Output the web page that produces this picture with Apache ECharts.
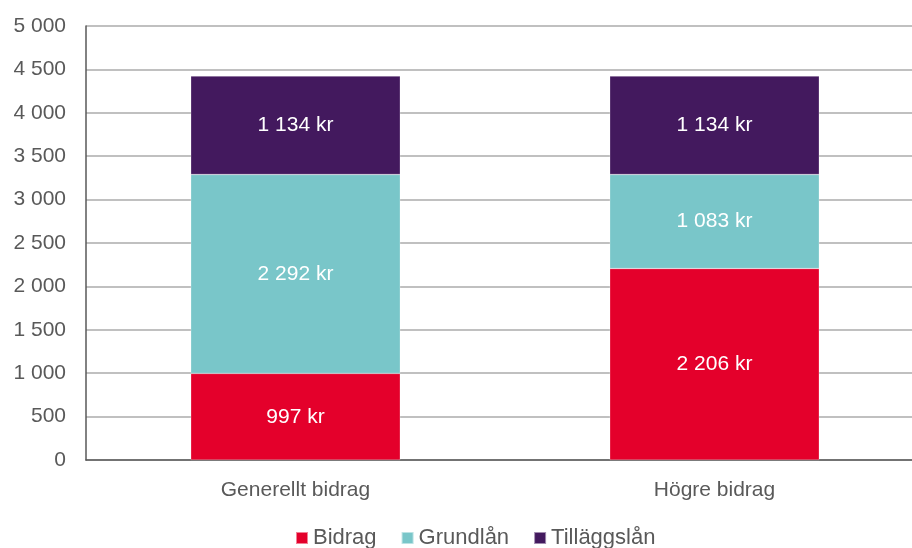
<!DOCTYPE html>
<html><head><meta charset="utf-8">
<script src="https://cdn.jsdelivr.net/npm/echarts@6/dist/echarts.min.js"></script>
<style>html,body{margin:0;padding:0;background:#fff;overflow:hidden;width:912px;height:548px}#c{width:924px;height:548px}</style>
</head><body><div id="c"></div>
<script>
const categories = ['Generellt bidrag', 'Högre bidrag'];
const bidrag = [997, 2206];
const grundlan = [2292, 1083];
const tillaggslan = [1134, 1134];
const seriesNames = ['Bidrag', 'Grundlån', 'Tilläggslån'];
const colors = ['#E4002B', '#79C6C9', '#43195E'];

function fmt(v){ return String(v).replace(/\B(?=(\d{3})+(?!\d))/g, ' '); }
const font = 'Liberation Sans, Arial, sans-serif';
const chart = echarts.init(document.getElementById('c'), null, {renderer:'canvas'});
const mk = (name, data, color) => ({
  name, type:'bar', stack:'s', data, barWidth:'50%',
  itemStyle:{color, borderColor:'rgba(255,255,255,0.5)', borderWidth:0.5},
  label:{show:true, position:'inside', color:'#fff', fontFamily:font, fontSize:21,
    formatter:p=>fmt(p.value)+' kr'}
});
chart.setOption({
  animation:false,
  textStyle:{fontFamily:font},
  grid:{left:86, top:26, right:0, bottom:88},
  legend:{bottom:-6, left:290, itemWidth:12, itemHeight:12, itemGap:24,
    icon:'rect', textStyle:{color:'#595959', fontSize:22, fontFamily:font}},
  xAxis:{type:'category', data:categories,
    axisLine:{lineStyle:{color:'#595959', width:1.5}},
    axisTick:{show:false},
    axisLabel:{color:'#595959', fontSize:21, margin:20, fontFamily:font}},
  yAxis:{type:'value', min:0, max:5000, interval:500,
    axisLine:{show:true, lineStyle:{color:'#595959', width:1.5}},
    axisTick:{show:false},
    splitLine:{lineStyle:{color:'#ABABAB', width:1.5}},
    axisLabel:{color:'#595959', fontSize:21, margin:20, fontFamily:font, formatter:v=>fmt(v)}},
  series:[mk(seriesNames[0], bidrag, colors[0]), mk(seriesNames[1], grundlan, colors[1]), mk(seriesNames[2], tillaggslan, colors[2])]
});
</script></body></html>
